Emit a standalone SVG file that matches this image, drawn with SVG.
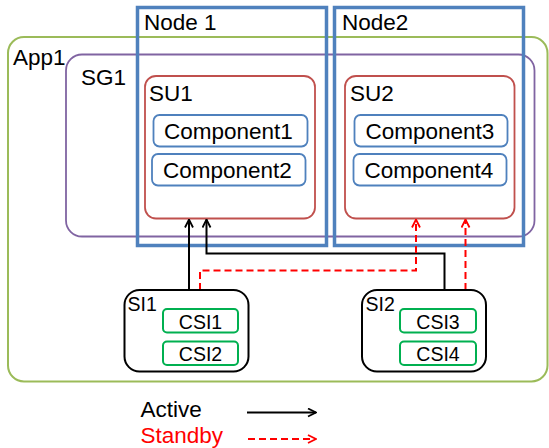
<svg xmlns="http://www.w3.org/2000/svg" width="549" height="448" viewBox="0 0 549 448">
<style>
text{font-family:"Liberation Sans",Arial,sans-serif;fill:#000}
.lbl{font-size:22.5px}
.si{font-size:19.5px}
.csi{font-size:19.5px;text-anchor:middle}
.app{fill:none;stroke:#9bbb59;stroke-width:2}
.sg{fill:none;stroke:#8064a2;stroke-width:1.8}
.su{fill:none;stroke:#c0504d;stroke-width:1.8}
.comp{fill:none;stroke:#4f81bd;stroke-width:1.8}
.node{fill:none;stroke:#4f81bd;stroke-width:3.5}
.sib{fill:#fff;stroke:#000;stroke-width:2}
.csib{fill:none;stroke:#00b050;stroke-width:2}
.act{fill:none;stroke:#000;stroke-width:2}
.stb{fill:none;stroke:#ff0000;stroke-width:2;stroke-dasharray:7 4}
</style>
<defs>
<marker id="ab" viewBox="0 0 10 10" refX="9" refY="5" markerWidth="10" markerHeight="10" markerUnits="userSpaceOnUse" orient="auto">
<path d="M1,1 L9,5 L1,9" fill="none" stroke="#000" stroke-width="1.8"/>
</marker>
<marker id="ar" viewBox="0 0 10 10" refX="9" refY="5" markerWidth="10" markerHeight="10" markerUnits="userSpaceOnUse" orient="auto">
<path d="M1,1 L9,5 L1,9" fill="none" stroke="#ff0000" stroke-width="1.8"/>
</marker>
</defs>
<g id="app1">
<rect class="app" x="8" y="37" width="539.5" height="344.5" rx="16"/>
<text class="lbl" x="13" y="65">App1</text>
</g>
<g id="sg1">
<rect class="sg" x="66" y="54.5" width="468.5" height="182" rx="16"/>
<text class="lbl" x="81" y="85">SG1</text>
</g>
<g id="su1">
<rect class="su" x="145" y="76" width="170" height="142.5" rx="11"/>
<text class="lbl" x="149" y="101">SU1</text>
</g>
<g id="component1">
<rect class="comp" x="153.5" y="115" width="154" height="31.5" rx="6"/>
<text class="lbl" x="164" y="139">Component1</text>
</g>
<g id="component2">
<rect class="comp" x="152" y="154" width="153.5" height="31.5" rx="6"/>
<text class="lbl" x="163" y="178">Component2</text>
</g>
<g id="su2">
<rect class="su" x="345" y="76" width="169.5" height="142.5" rx="11"/>
<text class="lbl" x="350" y="101">SU2</text>
</g>
<g id="component3">
<rect class="comp" x="354.5" y="115" width="153" height="31.5" rx="6"/>
<text class="lbl" x="365.5" y="139">Component3</text>
</g>
<g id="component4">
<rect class="comp" x="353.5" y="154" width="153" height="31.5" rx="6"/>
<text class="lbl" x="364.5" y="178">Component4</text>
</g>
<g id="node1">
<rect class="node" x="137.5" y="7.5" width="189" height="238"/>
<text class="lbl" x="144" y="30">Node 1</text>
</g>
<g id="node2">
<rect class="node" x="334.5" y="7.5" width="189" height="238"/>
<text class="lbl" x="342" y="30">Node2</text>
</g>
<g id="connectors">
<path class="act" d="M189,290 V219.5" marker-end="url(#ab)"/>
<path class="act" d="M444.5,290 V253.5 H206.5 V219.5" marker-end="url(#ab)"/>
<path class="stb" d="M200,290 V270.5 H416 V219.5" marker-end="url(#ar)"/>
<path class="stb" d="M465.5,290 V219.5" marker-end="url(#ar)"/>
</g>
<g id="si1">
<rect class="sib" x="124.5" y="290" width="124" height="81.5" rx="15"/>
<text class="si" x="127.5" y="311">SI1</text>
</g>
<g id="csi1">
<rect class="csib" x="163" y="309" width="75" height="23.5" rx="4"/>
<text class="csi" x="200.5" y="329">CSI1</text>
</g>
<g id="csi2">
<rect class="csib" x="163" y="341.5" width="75" height="23.5" rx="4"/>
<text class="csi" x="200.5" y="361">CSI2</text>
</g>
<g id="si2">
<rect class="sib" x="362" y="290" width="124" height="81.5" rx="15"/>
<text class="si" x="365.5" y="311">SI2</text>
</g>
<g id="csi3">
<rect class="csib" x="400" y="309" width="76" height="23.5" rx="4"/>
<text class="csi" x="438" y="329">CSI3</text>
</g>
<g id="csi4">
<rect class="csib" x="400" y="341.5" width="76" height="23.5" rx="4"/>
<text class="csi" x="438" y="361">CSI4</text>
</g>
<g id="legend">
<text class="lbl" x="140.5" y="417">Active</text>
<text class="lbl" x="140.5" y="442.5" style="fill:#ff0000">Standby</text>
<path class="act" d="M247,412.5 H316" marker-end="url(#ab)"/>
<path class="stb" d="M248,439 H316" marker-end="url(#ar)"/>
</g>
</svg>
